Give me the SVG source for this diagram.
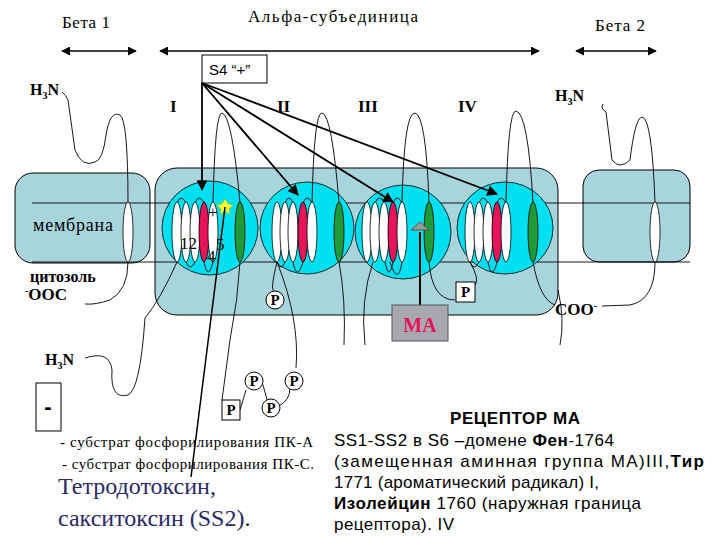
<svg xmlns="http://www.w3.org/2000/svg" width="720" height="540" viewBox="0 0 720 540">
<defs>
<marker id="ah" viewBox="0 0 10 10" refX="9" refY="5" markerWidth="6" markerHeight="6" orient="auto-start-reverse"><path d="M0,0 L10,5 L0,10 z" fill="#000"/></marker>
<style>
.t{font-family:"Liberation Serif",serif;fill:#000}
.s{font-family:"Liberation Sans",sans-serif;fill:#000}
.w{fill:#fff;stroke:#000;stroke-width:0.8}
.r{fill:#e8145a;stroke:#000;stroke-width:0.8}
.g{fill:#1e9a3a;stroke:#000;stroke-width:0.8}
.loop{fill:none;stroke:#000;stroke-width:0.9}
.dom{fill:#00e0f0;stroke:#000;stroke-width:0.8}
.box{fill:#a8d4dc;stroke:#000;stroke-width:1}
.pc{fill:#fff;stroke:#000;stroke-width:1}
.pt{font-family:"Liberation Serif",serif;font-weight:bold;font-size:15px;text-anchor:middle}
</style>
</defs>
<rect width="720" height="540" fill="#fff"/>
<text class="t" x="62" y="28" font-size="17" textLength="48">Бета 1</text>
<text class="t" x="248" y="22" font-size="17" textLength="170">Альфа-субъединица</text>
<text class="t" x="595" y="31" font-size="17" textLength="50">Бета 2</text>
<g id="ranges" stroke="#000" stroke-width="1.5">
<line x1="62" y1="51" x2="136" y2="51" marker-start="url(#ah)" marker-end="url(#ah)"/>
<line x1="160" y1="51" x2="539" y2="51" marker-start="url(#ah)" marker-end="url(#ah)"/>
<line x1="576" y1="51" x2="656" y2="51" marker-start="url(#ah)" marker-end="url(#ah)"/>
</g>
<rect x="15" y="173" width="135" height="90" rx="18" class="box"/>
<rect x="155" y="168" width="403" height="147" rx="22" class="box"/>
<rect x="583" y="170" width="107" height="92" rx="16" class="box"/>
<g id="membrane-lines" stroke="#000" stroke-width="0.9">
<line x1="32" y1="203" x2="690" y2="203"/>
<line x1="32" y1="262" x2="690" y2="262"/>
</g>
<text class="t" x="33" y="231" font-size="18" textLength="80">мембрана</text>
<text class="t" x="30" y="282" font-size="16" font-weight="bold">цитозоль</text>
<text class="t" x="25" y="300" font-size="17" font-weight="bold"><tspan font-size="10" dy="-6">-</tspan><tspan dy="6">OOC</tspan></text>
<text class="t" x="555" y="315" font-size="17" font-weight="bold">COO<tspan font-size="10" dy="-6">-</tspan></text>
<text class="t" x="30" y="95" font-size="16" font-weight="bold">H<tspan font-size="10" dy="4">3</tspan><tspan dy="-4">N</tspan></text>
<text class="t" x="555" y="101" font-size="16" font-weight="bold">H<tspan font-size="10" dy="4">3</tspan><tspan dy="-4">N</tspan></text>
<text class="t" x="45" y="365" font-size="16" font-weight="bold">H<tspan font-size="10" dy="4">3</tspan><tspan dy="-4">N</tspan></text>
<g class="t" font-size="17" font-weight="bold"><text x="170" y="112">I</text><text x="277" y="112">II</text><text x="358" y="112">III</text><text x="458" y="112">IV</text></g>
<g id="domains">
<ellipse cx="210" cy="228" rx="48" ry="47" class="dom"/>
<ellipse cx="307" cy="228" rx="47" ry="46" class="dom"/>
<ellipse cx="403" cy="232" rx="48" ry="47" class="dom"/>
<ellipse cx="505" cy="228" rx="48" ry="46" class="dom"/>
</g>
<g id="loops" class="loop">
<path d="M62,92 Q66,95 68,100 L75,150 Q82,168 95,162 Q103,160 106,135 Q110,110 120,115 Q128,120 128,203"/>
<path d="M128,262 Q128,290 110,300 Q95,305 85,304"/>
<path d="M603,104 Q600,108 606,112 L612,160 Q620,170 630,160 Q635,118 642,117 Q652,118 655,203"/>
<path d="M655,262 Q655,300 630,305 L602,306"/>
<path d="M213,203 Q215,112 222,113 Q232,115 240,203"/>
<path d="M312,203 Q314,112 322,113 Q332,115 339,203"/>
<path d="M402,203 Q404,112 415,113 Q426,115 429,203"/>
<path d="M506,203 Q508,110 516,111 Q528,113 533,203"/>
<path d="M240,262 Q238,300 230,340 L222,400"/>
<path d="M240,410 L246,390"/><path d="M262,382 Q266,395 267,400"/><path d="M279,406 Q290,400 290,388"/>
<path d="M296,368 Q300,320 277,262"/>
<path d="M277,262 Q270,290 274,291"/>
<path d="M339,262 Q346,300 344,345"/>
<path d="M373,262 Q360,300 365,345"/>
<path d="M429,262 Q432,300 455,300"/>
<path d="M475,285 Q480,280 470,262"/>
<path d="M533,262 Q540,300 555,305"/>
<path d="M177,262 Q160,300 145,318 Q140,390 128,395 Q110,400 112,370 Q110,350 85,358"/>
<path d="M558,290 Q565,320 560,345"/>
<path d="M177,203 q4,-10 9,0 M195,203 q4,-10 9,0 M285,203 q4,-10 8,0 M303,203 q4,-10 9,0 M375,203 q4,-10 10,0 M393,203 q4,-10 9,0 M479,203 q4,-10 9,0 M497,203 q4,-10 9,0"/>
<path d="M186,262 q4,10 9,0 M204,262 q4,20 9,0 M277,262 q4,10 8,0 M293,262 q4,20 10,0 M385,262 q4,20 8,0 M402,262 q-4,25 -12,0 M470,262 q4,10 9,0 M488,262 q4,20 9,0"/>
</g>
<g id="helices">
<ellipse cx="128" cy="232" rx="5" ry="30" class="w"/>
<ellipse cx="655" cy="232" rx="5" ry="30" class="w"/>
<ellipse cx="177" cy="232" rx="5" ry="30" class="w"/><ellipse cx="186" cy="232" rx="5" ry="30" class="w"/><ellipse cx="195" cy="232" rx="5" ry="30" class="w"/><ellipse cx="204" cy="232" rx="5" ry="30" class="r"/><ellipse cx="213" cy="232" rx="5" ry="30" class="w"/><ellipse cx="240" cy="232" rx="5" ry="30" class="g"/>
<ellipse cx="277" cy="232" rx="5" ry="30" class="w"/><ellipse cx="285" cy="232" rx="5" ry="30" class="w"/><ellipse cx="293" cy="232" rx="5" ry="30" class="w"/><ellipse cx="303" cy="232" rx="5" ry="30" class="r"/><ellipse cx="312" cy="232" rx="5" ry="30" class="w"/><ellipse cx="339" cy="232" rx="5" ry="30" class="g"/>
<ellipse cx="367" cy="232" rx="5" ry="30" class="w"/><ellipse cx="375" cy="232" rx="5" ry="30" class="w"/><ellipse cx="384" cy="232" rx="5" ry="30" class="w"/><ellipse cx="393" cy="232" rx="5" ry="30" class="r"/><ellipse cx="402" cy="232" rx="5" ry="30" class="w"/><ellipse cx="429" cy="232" rx="5" ry="30" class="g"/>
<ellipse cx="470" cy="232" rx="5" ry="30" class="w"/><ellipse cx="479" cy="232" rx="5" ry="30" class="w"/><ellipse cx="488" cy="232" rx="5" ry="30" class="w"/><ellipse cx="497" cy="232" rx="5" ry="30" class="r"/><ellipse cx="506" cy="232" rx="5" ry="30" class="w"/><ellipse cx="533" cy="232" rx="5" ry="30" class="g"/>
</g>
<polygon points="225,199 228,204 233,205 229,209 230,214 225,211 220,214 221,209 217,205 222,204" fill="#ffff30" stroke="#c8b000" stroke-width="0.5"/>
<g class="t" font-size="17"><text x="180" y="249">12</text><text x="208" y="218">+</text><text x="207" y="262">4</text><text x="216" y="250">5</text></g>
<line x1="225" y1="207" x2="191" y2="477" stroke="#000" stroke-width="1.5"/>
<g id="s4">
<rect x="202" y="55" width="65" height="28" fill="#fff" stroke="#000"/>
<text class="s" x="209" y="75" font-size="15">S4 “+”</text>
</g>
<g id="connectors" stroke="#000" stroke-width="1.8" fill="none">
<line x1="202" y1="83" x2="202" y2="190" marker-end="url(#ah)"/>
<line x1="202" y1="83" x2="298" y2="195" marker-end="url(#ah)"/>
<line x1="202" y1="83" x2="393" y2="202" marker-end="url(#ah)"/>
<line x1="202" y1="83" x2="497" y2="194" marker-end="url(#ah)"/>
<line x1="420" y1="305" x2="420" y2="232" stroke-width="2"/>
</g>
<polygon points="420,222 429,230 411,230" fill="#999" stroke="#555"/>
<g id="ma">
<rect x="392" y="305" width="56" height="36" fill="#a8a8b0" stroke="#555"/>
<text x="420" y="332" text-anchor="middle" font-family="Liberation Serif,serif" font-weight="bold" font-size="20" fill="#e8145a">MA</text>
</g>
<g id="phos">
<circle cx="275" cy="300" r="9" class="pc"/><text class="pt" x="275" y="305">P</text>
<rect x="456" y="282" width="19" height="20" class="pc"/><text class="pt" x="465.5" y="297">P</text>
<rect x="222" y="400" width="18" height="20" class="pc"/><text class="pt" x="231" y="415">P</text>
<circle cx="254" cy="381" r="9" class="pc"/><text class="pt" x="254" y="386">P</text>
<circle cx="271" cy="408" r="9" class="pc"/><text class="pt" x="271" y="413">P</text>
<circle cx="294" cy="381" r="9" class="pc"/><text class="pt" x="294" y="386">P</text>
</g>
<rect x="36" y="383" width="25" height="48" fill="#fff" stroke="#000"/>
<text x="48" y="414" text-anchor="middle" class="s" font-size="22" font-weight="bold">-</text>
<g class="t" font-size="15">
<text x="60" y="447" textLength="253">- субстрат фосфорилирования ПК-А</text>
<text x="62" y="469" textLength="252">- субстрат фосфорилирования ПК-С.</text>
</g>
<g font-family="Liberation Serif,serif" font-size="24" fill="#2a2a66">
<text x="58" y="494">Тетродотоксин,</text>
<text x="58" y="526">сакситоксин (SS2)<tspan fill="#000">.</tspan></text>
</g>
<text class="s" x="450" y="424" font-size="17" font-weight="bold" textLength="130">РЕЦЕПТОР МА</text>
<g class="s" font-size="17">
<text x="334" y="446" textLength="280">SS1-SS2 в S6 –домене <tspan font-weight="bold">Фен</tspan>-1764</text>
<text x="334" y="467" textLength="370">(замещенная аминная группа МА)III,<tspan font-weight="bold">Тир</tspan></text>
<text x="334" y="488" textLength="265">1771 (ароматический радикал) I,</text>
<text x="334" y="509" textLength="307"><tspan font-weight="bold">Изолейцин</tspan> 1760 (наружная граница</text>
<text x="334" y="530" textLength="120">рецептора). IV</text>
</g>
</svg>
